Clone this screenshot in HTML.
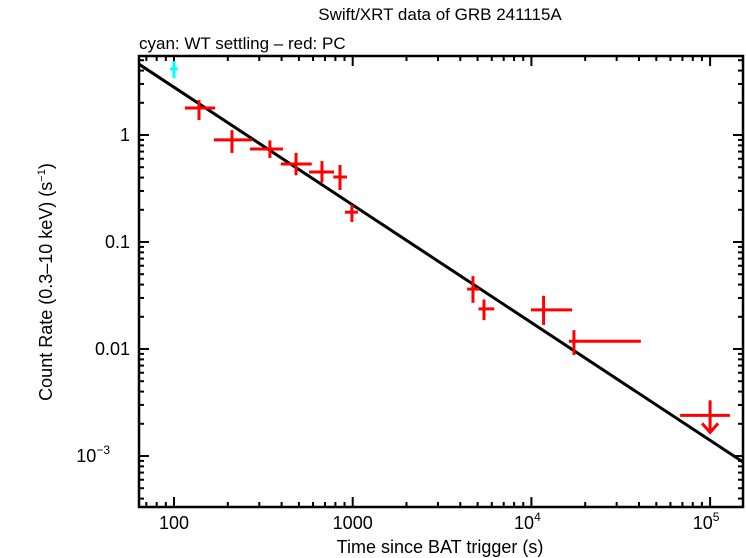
<!DOCTYPE html>
<html><head><meta charset="utf-8"><style>
html,body{margin:0;padding:0;background:#fff;}
svg{display:block;font-family:"Liberation Sans",sans-serif;}
</style></head><body>
<svg id="chart" width="746" height="558" viewBox="0 0 746 558">
<text x="440" y="20" font-size="17" text-anchor="middle">Swift/XRT data of GRB 241115A</text>
<text x="139" y="49" font-size="17">cyan: WT settling – red: PC</text>
<text x="440" y="553" font-size="18" text-anchor="middle">Time since BAT trigger (s)</text>
<text transform="translate(52,282) rotate(-90)" font-size="18" text-anchor="middle">Count Rate (0.3–10 keV) (s<tspan font-size="11" dy="-7">−1</tspan><tspan dy="7">)</tspan></text>
<g id="ticks"></g>
<g id="marks"></g>
<rect x="139" y="56" width="604" height="451" fill="none" stroke="#000" stroke-width="2.5"/>
</svg>
<script>
const wtTime=[100], wtRate=[4.14], wtTlo=[95], wtThi=[105], wtRlo=[3.4], wtRhi=[4.9];
const pcTime=[138,211,344,482,673,849,990,4710,5430,11700,17300];
const pcTlo=[115,167,266,396,570,779,905,4370,5060,9940,16200];
const pcThi=[170,273,407,590,787,929,1070,5100,6200,16900,41000];
const pcRate=[1.79,0.90,0.74,0.536,0.451,0.405,0.19,0.0363,0.0237,0.0232,0.0118];
const pcRlo=[1.38,0.68,0.61,0.42,0.36,0.306,0.154,0.027,0.0186,0.0168,0.0088];
const pcRhi=[2.12,1.11,0.89,0.68,0.57,0.524,0.222,0.048,0.029,0.0314,0.015];
const ulTime=[100000], ulTlo=[68000], ulThi=[129000], ulRate=[0.0024];
const fitNorm=0.222, fitIndex=1.10;
const xTicks=[100,1000,10000,100000], yTicks=[1,0.1,0.01,0.001];
const yTickLabels=["1","0.1","0.01","10"];

const L=139,R=743,T=56,B=507;
const X=t=>174+(Math.log10(t)-2)*178.7;
const Y=r=>135-Math.log10(r)*107;
const NS="http://www.w3.org/2000/svg";
function mk(tag,attrs,parent){const e=document.createElementNS(NS,tag);for(const k in attrs)e.setAttribute(k,attrs[k]);parent.appendChild(e);return e;}
const tg=document.getElementById('ticks'), mg=document.getElementById('marks');

for(let d=1;d<=5;d++){for(let m=1;m<10;m++){const v=m*Math.pow(10,d);const x=X(v);if(x<L||x>R)continue;const len=m===1?10:5;
 const a=mk('line',{x1:x,x2:x,y1:B,y2:B-len,stroke:'#000','stroke-width':2},tg);
 
 
 const b=mk('line',{x1:x,x2:x,y1:T,y2:T+len,stroke:'#000','stroke-width':2},tg);
 
 }}
xTicks.forEach((v,i)=>{const x=X(v);let t;
 if(v<=1000){t=mk('text',{x:x,y:529,'font-size':18,'text-anchor':'middle'},tg);t.textContent=String(v);}
 else{t=mk('text',{x:x-4,y:529,'font-size':18,'text-anchor':'middle'},tg);t.textContent='10';const s=mk('tspan',{'font-size':12,dy:-8},t);s.textContent=String(Math.round(Math.log10(v)));}
 
 });
for(let d=-4;d<=0;d++){for(let m=1;m<10;m++){const v=m*Math.pow(10,d);const y=Y(v);if(y<T||y>B)continue;const len=m===1?10:5;
 const a=mk('line',{x1:L,x2:L+len,y1:y,y2:y,stroke:'#000','stroke-width':2},tg);
 
 
 const b=mk('line',{x1:R,x2:R-len,y1:y,y2:y,stroke:'#000','stroke-width':2},tg);
 
 }}
yTicks.forEach((v,i)=>{const y=Y(v);let t;
 if(v>=0.01){t=mk('text',{x:130,y:y+6,'font-size':18,'text-anchor':'end'},tg);t.textContent=yTickLabels[i];}
 else{t=mk('text',{x:110,y:y+6,'font-size':18,'text-anchor':'end'},tg);t.textContent=yTickLabels[i];const s=mk('tspan',{'font-size':12,dy:-8},t);s.textContent='−3';}
 
 });

const t0=Math.pow(10,(L-174)/178.7+2), t1=Math.pow(10,(R-174)/178.7+2);
const fit=mk('line',{x1:X(t0),y1:Y(fitNorm*Math.pow(t0/1000,-fitIndex)),x2:X(t1),y2:Y(fitNorm*Math.pow(t1/1000,-fitIndex)),stroke:'#000','stroke-width':3},mg);



function cross(t,tl,th,r,rl,rh,col,name){const g=mk('g',{stroke:col,'stroke-width':3},mg);
 
 
 mk('line',{x1:X(tl),x2:X(th),y1:Y(r),y2:Y(r)},g);
 mk('line',{x1:X(t),x2:X(t),y1:Y(rl),y2:Y(rh)},g);}
wtTime.forEach((t,i)=>cross(t,wtTlo[i],wtThi[i],wtRate[i],wtRlo[i],wtRhi[i],'#00ffff','wt-point'));
pcTime.forEach((t,i)=>cross(t,pcTlo[i],pcThi[i],pcRate[i],pcRlo[i],pcRhi[i],'#ff0000','pc-point'));
ulTime.forEach((t,i)=>{const g=mk('g',{stroke:'#ff0000','stroke-width':3,fill:'none'},mg);
 
 
 const x=X(t),y=Y(ulRate[i]);
 mk('line',{x1:X(ulTlo[i]),x2:X(ulThi[i]),y1:y,y2:y},g);
 mk('line',{x1:x,x2:x,y1:y-15,y2:y+17},g);
 mk('polyline',{points:`${x-8},${y+8} ${x},${y+17} ${x+8},${y+8}`},g);});
</script>
</body></html>
